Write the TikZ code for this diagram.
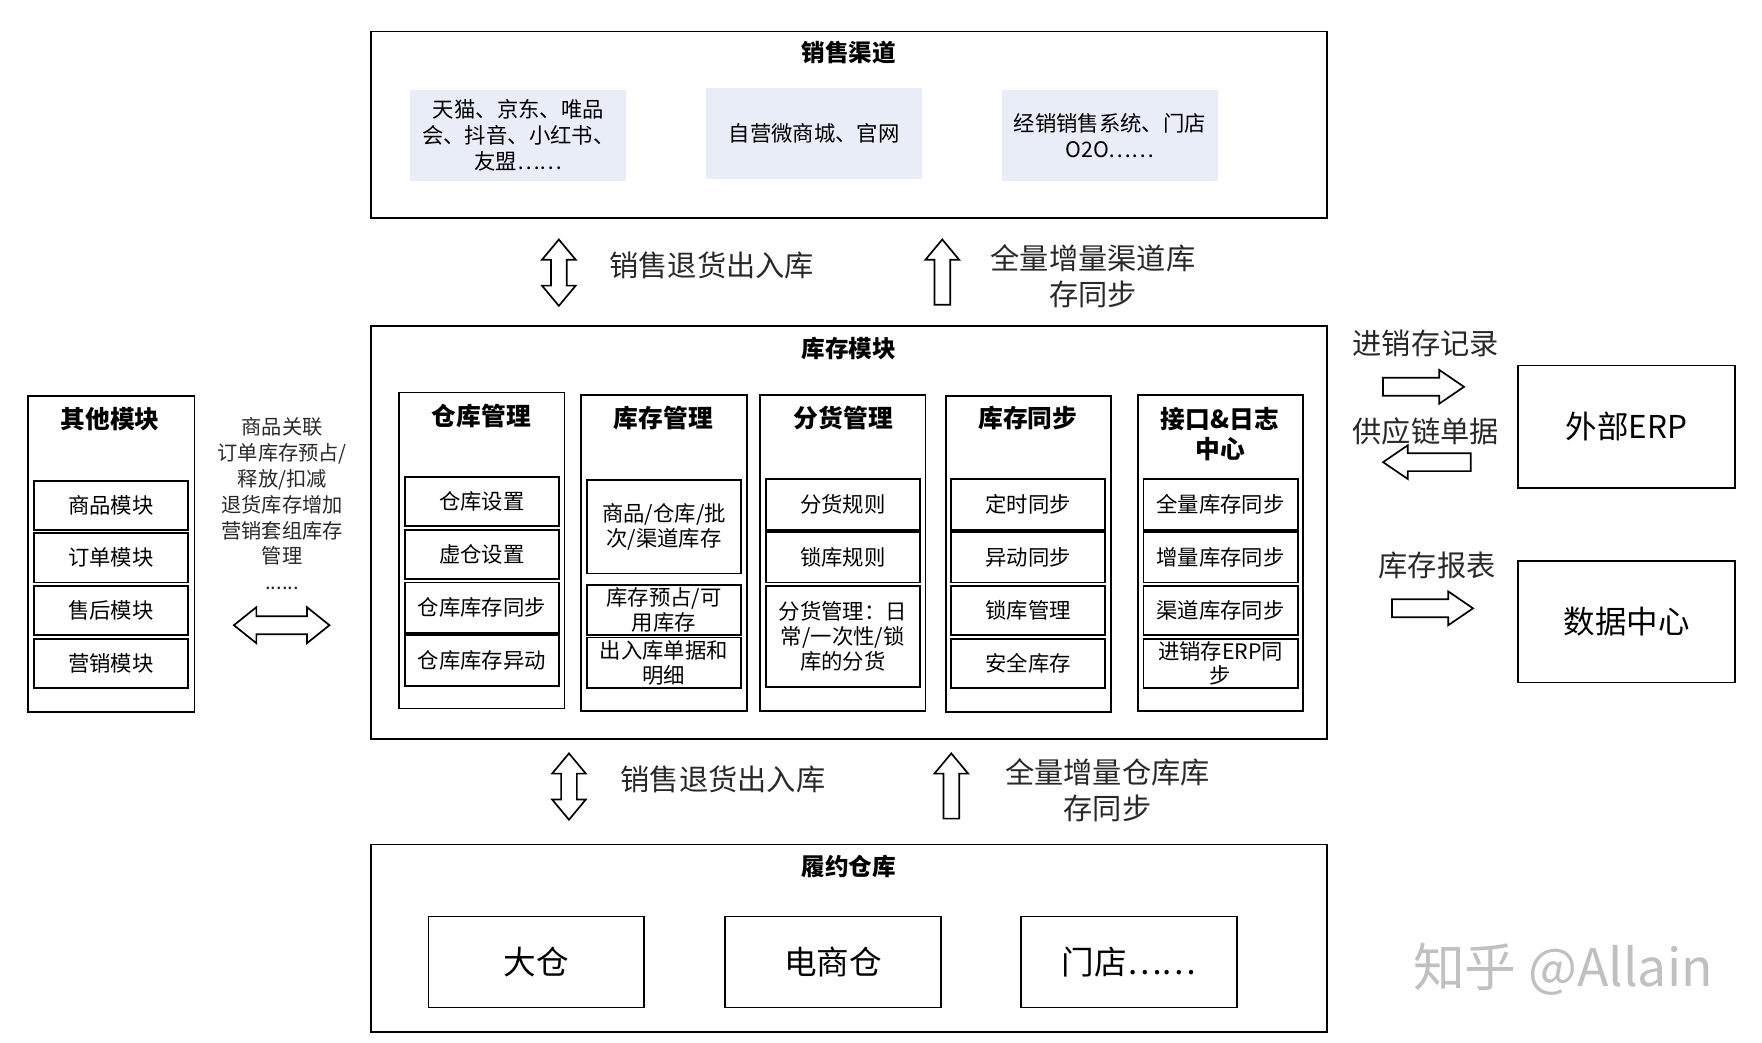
\documentclass[tikz,border=0pt]{standalone}
\usepackage{fontspec}
\setmainfont{Noto Sans CJK SC}
\definecolor{chfill}{RGB}{233,237,247}
\definecolor{wmgray}{RGB}{192,192,192}
\definecolor{lbl}{RGB}{40,40,40}
\newcommand\setfs[2]{\fontsize{#1}{#2}\selectfont}
\newcommand\upblock[3]{\draw[blockarrow] (#1,#2) -- (#1+15,#2+18) -- (#1+7,#2+18) -- (#1+7,#3) -- (#1-7,#3) -- (#1-7,#2+18) -- (#1-15,#2+18) -- cycle;}
\newcommand\vdbl[3]{\draw[blockarrow] (#1,#2) -- (#1+15,#2+18) -- (#1+7,#2+18) -- (#1+7,#3-18) -- (#1+15,#3-18) -- (#1,#3) -- (#1-15,#3-18) -- (#1-7,#3-18) -- (#1-7,#2+18) -- (#1-15,#2+18) -- cycle;}
\newcommand\hdbl[3]{\draw[blockarrow] (#1,#3) -- (#1+20,#3-16) -- (#1+20,#3-8) -- (#2-20,#3-8) -- (#2-20,#3-16) -- (#2,#3) -- (#2-20,#3+16) -- (#2-20,#3+8) -- (#1+20,#3+8) -- (#1+20,#3+16) -- cycle;}
\newcommand\myrarr[3]{\draw[blockarrow] (#1,#3-8) -- (#2-22,#3-8) -- (#2-22,#3-15) -- (#2,#3) -- (#2-22,#3+15) -- (#2-22,#3+8) -- (#1,#3+8) -- cycle;}
\newcommand\mylarr[3]{\draw[blockarrow] (#1,#3) -- (#1+22,#3-15) -- (#1+22,#3-8) -- (#2,#3-8) -- (#2,#3+8) -- (#1+22,#3+8) -- (#1+22,#3+15) -- cycle;}
\begin{document}
\begin{tikzpicture}[x=1pt,y=-1pt,
  every node/.style={inner sep=0pt, outer sep=0pt},
  outerbox/.style={draw, line width=1.7pt, anchor=north west},
  colbox/.style={draw, line width=1.6pt, anchor=north west, minimum width=147, minimum height=281},
  itembox/.style={draw, line width=1.6pt, anchor=north west, minimum width=137, align=center, font=\setfs{19}{22}},
  chbox/.style={fill=chfill, anchor=north west, minimum width=192, minimum height=81, align=center, font=\setfs{19}{23}},
  bigbox/.style={draw, line width=1.6pt, anchor=north west, minimum width=192, minimum height=81, font=\setfs{29}{34}},
  sidebox/.style={draw, line width=1.6pt, anchor=north west, minimum width=193, minimum height=109, font=\setfs{28}{34}},
  maintitle/.style={font=\bfseries\setfs{21}{25}},
  coltitle/.style={font=\bfseries\setfs{22}{27}, align=center},
  arrlabel/.style={font=\setfs{26}{32}, align=center, text=lbl},
  blockarrow/.style={draw, fill=white, line width=1.5pt, line join=miter}]
\useasboundingbox (0,0) rectangle (1567,927);

% ---------- 销售渠道 ----------
\node[outerbox, minimum width=850, minimum height=166] (sales) at (330,28) {};
\node[maintitle] (salest) at (755,47) {销售渠道};
\node[chbox] (ch1) at (365,80) {天猫、京东、唯品\\会、抖音、小红书、\\友盟……};
\node[chbox] (ch2) at (628,78) {自营微商城、官网};
\node[chbox] (ch3) at (891,80) {经销销售系统、门店\\O2O……};

% arrows between 销售渠道 and 库存模块
\vdbl{497}{213}{272}
\upblock{838}{213}{271}
\node[arrlabel] (l1) at (633,236) {销售退货出入库};
\node[arrlabel] (l2) at (972,246) {全量增量渠道库\\存同步};

% ---------- 库存模块 ----------
\node[outerbox, minimum width=850, minimum height=367] (inv) at (330,290) {};
\node[maintitle] (invt) at (755,310) {库存模块};

\node[colbox] (c1) at (355,349) {};
\node[coltitle] (c1t) at (428,370) {仓库管理};
\node[itembox, minimum height=44] (c1a) at (360,424) {仓库设置};
\node[itembox, minimum height=44] (c1b) at (360,471) {虚仓设置};
\node[itembox, minimum height=45] (c1c) at (360,518) {仓库库存同步};
\node[itembox, minimum height=45] (c1d) at (360,565) {仓库库存异动};

\node[colbox] (c2) at (517,351) {};
\node[coltitle] (c2t) at (590,372) {库存管理};
\node[itembox, minimum height=83] (c2a) at (522,427) {商品/仓库/批\\次/渠道库存};
\node[itembox, minimum height=45] (c2b) at (522,520) {库存预占/可\\用库存};
\node[itembox, minimum height=45] (c2c) at (522,567) {出入库单据和\\明细};

\node[colbox] (c3) at (676,351) {};
\node[coltitle] (c3t) at (750,372) {分货管理};
\node[itembox, minimum height=45] (c3a) at (681,426) {分货规则};
\node[itembox, minimum height=45] (c3b) at (681,473) {锁库规则};
\node[itembox, minimum height=90] (c3c) at (681,521) {分货管理：日\\常/一次性/锁\\库的分货};

\node[colbox] (c4) at (841,352) {};
\node[coltitle] (c4t) at (914,372) {库存同步};
\node[itembox, minimum height=45] (c4a) at (846,426) {定时同步};
\node[itembox, minimum height=45] (c4b) at (846,473) {异动同步};
\node[itembox, minimum height=44] (c4c) at (846,521) {锁库管理};
\node[itembox, minimum height=44] (c4d) at (846,568) {安全库存};

\node[colbox] (c5) at (1012,351) {};
\node[coltitle] (c5t) at (1085,386) {接口\&日志\\中心};
\node[itembox, minimum height=45] (c5a) at (1017,426) {全量库存同步};
\node[itembox, minimum height=45] (c5b) at (1017,473) {增量库存同步};
\node[itembox, minimum height=44] (c5c) at (1017,521) {渠道库存同步};
\node[itembox, minimum height=44] (c5d) at (1017,568) {进销存ERP同\\步};

% ---------- 其他模块 ----------
\node[colbox, minimum width=148] (oth) at (25,352) {};
\node[coltitle] (otht) at (98,373) {其他模块};
\node[itembox, minimum height=43] (o1) at (30,428) {商品模块};
\node[itembox, minimum height=44] (o2) at (30,474) {订单模块};
\node[itembox, minimum height=44] (o3) at (30,521) {售后模块};
\node[itembox, minimum height=44] (o4) at (30,568) {营销模块};
\node[font=\setfs{18}{23}, align=center, text=lbl] (othl) at (251,448) {商品关联\\订单库存预占/\\释放/扣减\\退货库存增加\\营销套组库存\\管理\\......};
\hdbl{208}{293}{556}

% ---------- arrows between 库存模块 and 履约仓库 ----------
\vdbl{506}{670}{729}
\upblock{846}{670}{728}
\node[arrlabel] (l3) at (643,693) {销售退货出入库};
\node[arrlabel] (l4) at (985,703) {全量增量仓库库\\存同步};

% ---------- 履约仓库 ----------
\node[outerbox, minimum width=850, minimum height=167] (wh) at (330,751) {};
\node[maintitle] (wht) at (755,771) {履约仓库};
\node[bigbox] (w1) at (381,815) {大仓};
\node[bigbox] (w2) at (645,815) {电商仓};
\node[bigbox] (w3) at (908,815) {门店……};

% ---------- right side ----------
\node[arrlabel] (r1) at (1268,305) {进销存记录};
\myrarr{1230}{1302}{344}
\node[arrlabel] (r2) at (1268,384) {供应链单据};
\mylarr{1230}{1308}{411}
\node[sidebox] (erp) at (1350,325) {外部ERP};
\node[arrlabel] (r3) at (1278,503) {库存报表};
\myrarr{1238}{1310}{541}
\node[sidebox, minimum height=108] (dc) at (1350,499) {数据中心};

% watermark
\node[font=\setfs{46}{50}, text=wmgray] (wm) at (1390,862) {知乎 @Allain};
\end{tikzpicture}
\end{document}
